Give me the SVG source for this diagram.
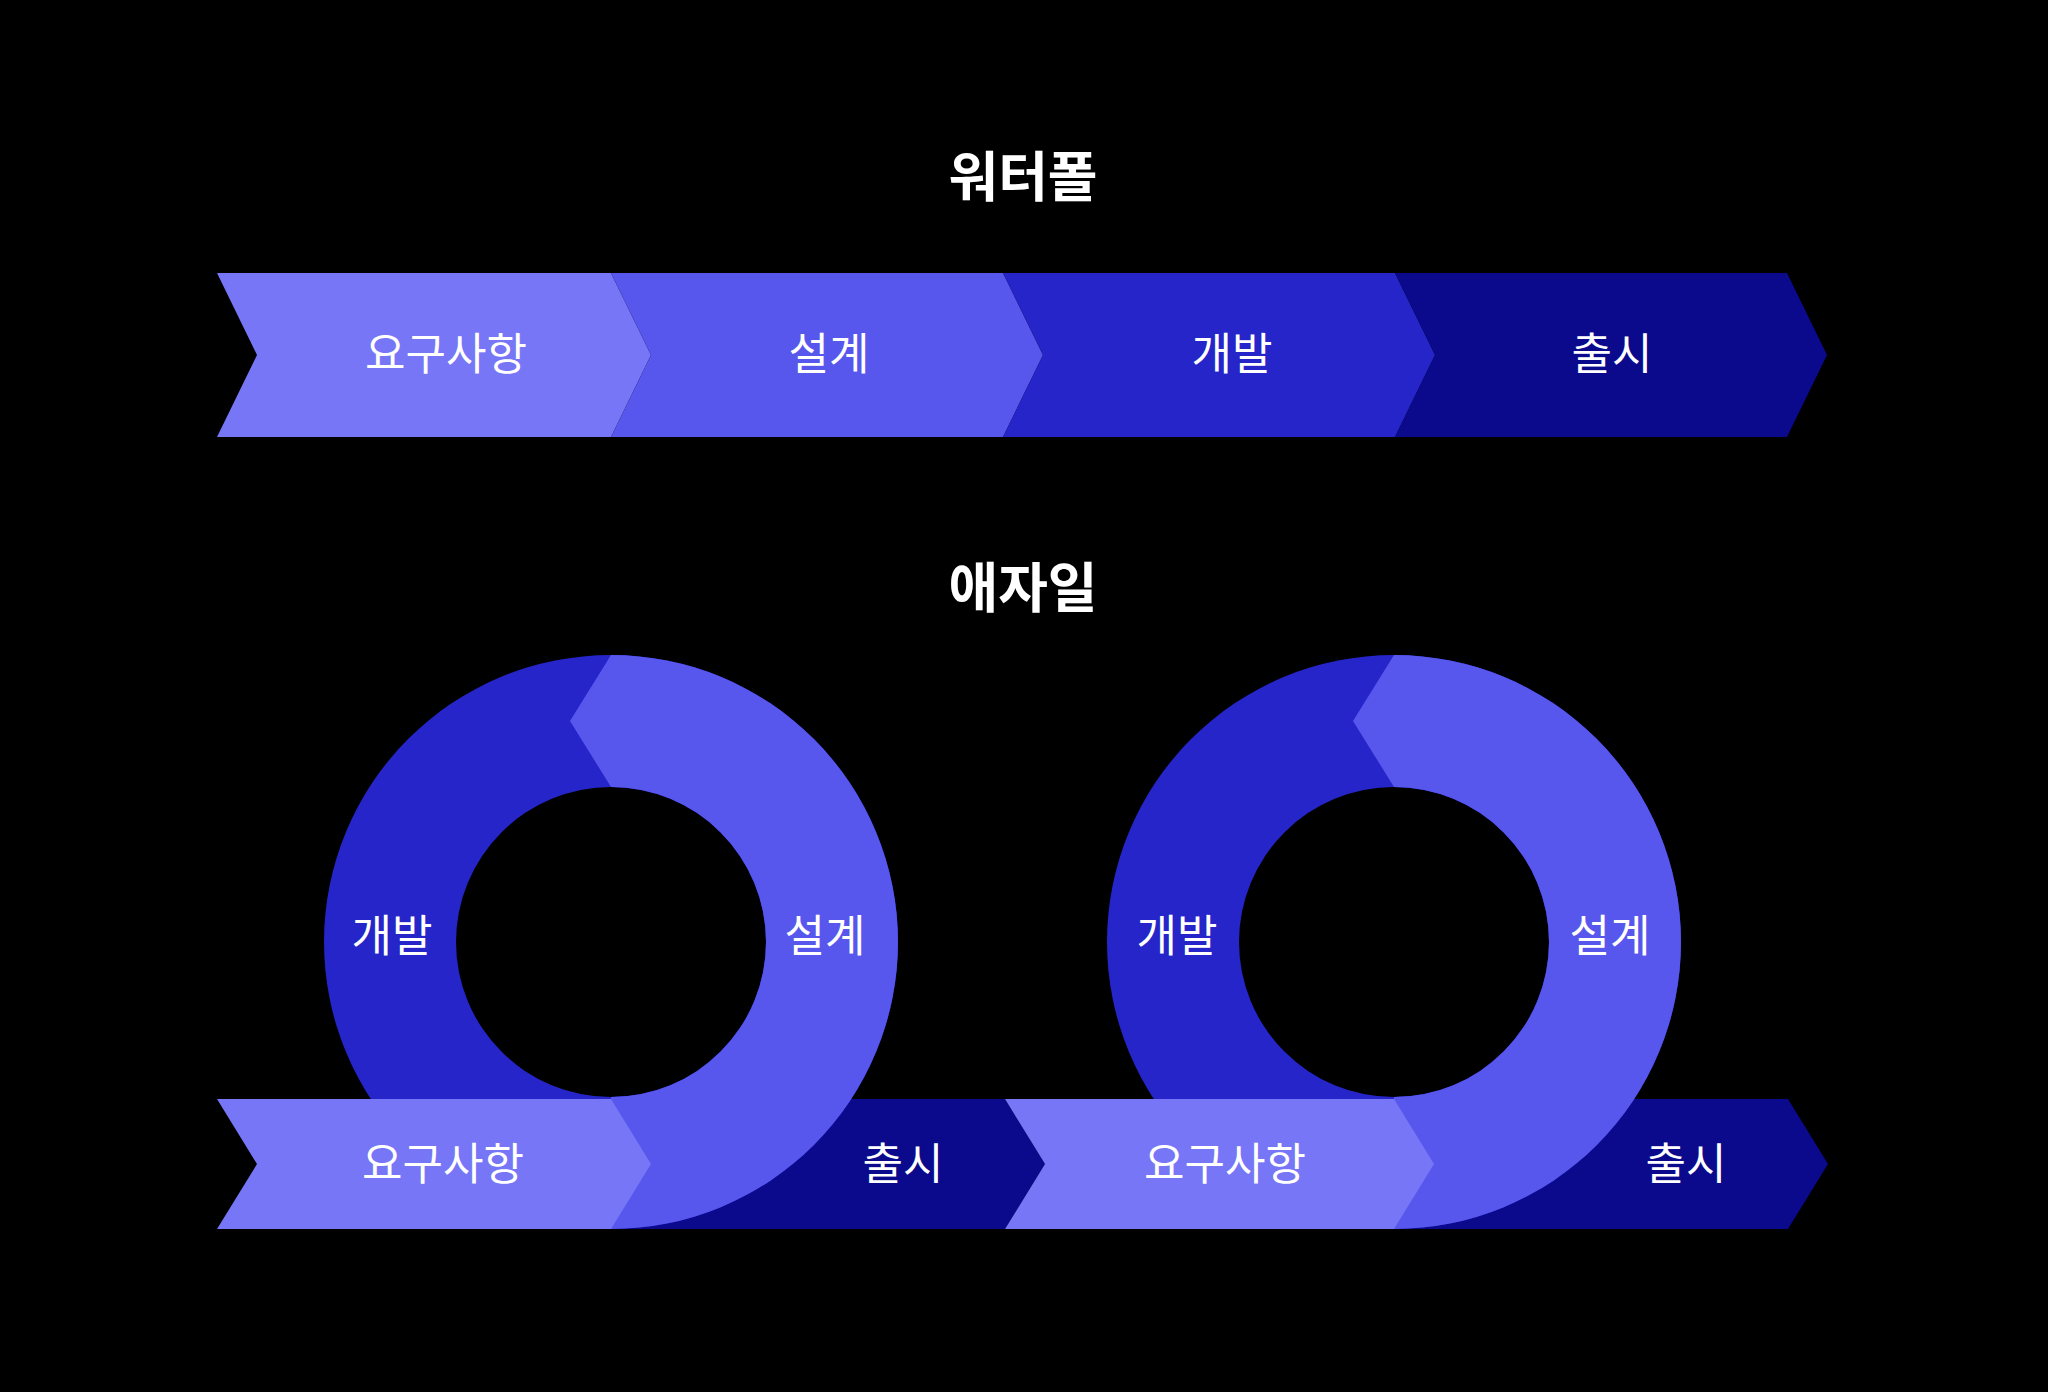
<svg xmlns="http://www.w3.org/2000/svg" width="2048" height="1392" viewBox="0 0 2048 1392">
<style>
.c1{fill:#7676F6}
.c2{fill:#5757EE}
.c3{fill:#2525C9}
.c4{fill:#0B0A8C}
.lbl{font-family:"Noto Sans CJK KR","Noto Sans",sans-serif;font-size:44px;font-weight:400;fill:#FFFFFF;text-anchor:middle;dominant-baseline:central}
.ttl{font-family:"Noto Sans CJK KR","Noto Sans",sans-serif;font-size:54px;font-weight:bold;fill:#FFFFFF;text-anchor:middle;dominant-baseline:central}
</style>
<rect x="0" y="0" width="2048" height="1392" fill="#000000"/>
<g id="title-waterfall"><text class="ttl" x="1023" y="173">워터폴</text></g>
<g id="title-agile"><text class="ttl" x="1023" y="584">애자일</text></g>

<g id="wf-req"><path class="c1" d="M217,273 L611,273 L651,355 L611,437 L217,437 L257,355 Z"/><text class="lbl" x="446" y="351">요구사항</text></g>
<g id="wf-design"><path class="c2" d="M611,273 L1003,273 L1043,355 L1003,437 L611,437 L651,355 Z"/><text class="lbl" x="829" y="351">설계</text></g>
<g id="wf-dev"><path class="c3" d="M1003,273 L1395,273 L1435,355 L1395,437 L1003,437 L1043,355 Z"/><text class="lbl" x="1232" y="351">개발</text></g>
<g id="wf-release"><path class="c4" d="M1395,273 L1787,273 L1827,355 L1787,437 L1395,437 L1435,355 Z"/><text class="lbl" x="1612" y="351">출시</text></g>

<g id="ag1-release"><path class="c4" d="M611,1099 L1005,1099 L1045,1164 L1005,1229 L611,1229 L651,1164 Z"/></g>
<g id="ag2-release"><path class="c4" d="M1394,1099 L1788,1099 L1828,1164 L1788,1229 L1394,1229 L1434,1164 Z"/></g>

<g id="ag1-dev"><path class="c3" fill-rule="evenodd" d="M611,655 A287,287 0 1 0 611,1229 A287,287 0 1 0 611,655 Z M611,787 A155,155 0 1 1 611,1097 A155,155 0 1 1 611,787 Z"/><text class="lbl" x="392" y="933">개발</text></g>
<g id="ag1-design"><path class="c2" d="M611,655 A287,287 0 0 1 611,1229 L611,1097 A155,155 0 0 0 611,787 L570,721 Z"/><text class="lbl" x="825" y="933">설계</text></g>
<g id="ag1-req"><path class="c1" d="M217,1099 L611,1099 L651,1164 L611,1229 L217,1229 L257,1164 Z"/><text class="lbl" x="443" y="1161">요구사항</text></g>
<g id="ag1-release-label"><text class="lbl" x="903" y="1161">출시</text></g>

<g id="ag2-dev"><path class="c3" fill-rule="evenodd" d="M1394,655 A287,287 0 1 0 1394,1229 A287,287 0 1 0 1394,655 Z M1394,787 A155,155 0 1 1 1394,1097 A155,155 0 1 1 1394,787 Z"/><text class="lbl" x="1177" y="933">개발</text></g>
<g id="ag2-design"><path class="c2" d="M1394,655 A287,287 0 0 1 1394,1229 L1394,1097 A155,155 0 0 0 1394,787 L1353,721 Z"/><text class="lbl" x="1610" y="933">설계</text></g>
<g id="ag2-req"><path class="c1" d="M1005,1099 L1394,1099 L1434,1164 L1394,1229 L1005,1229 L1045,1164 Z"/><text class="lbl" x="1225" y="1161">요구사항</text></g>
<g id="ag2-release-label"><text class="lbl" x="1686" y="1161">출시</text></g>
<g id="connectors"/>
</svg>
